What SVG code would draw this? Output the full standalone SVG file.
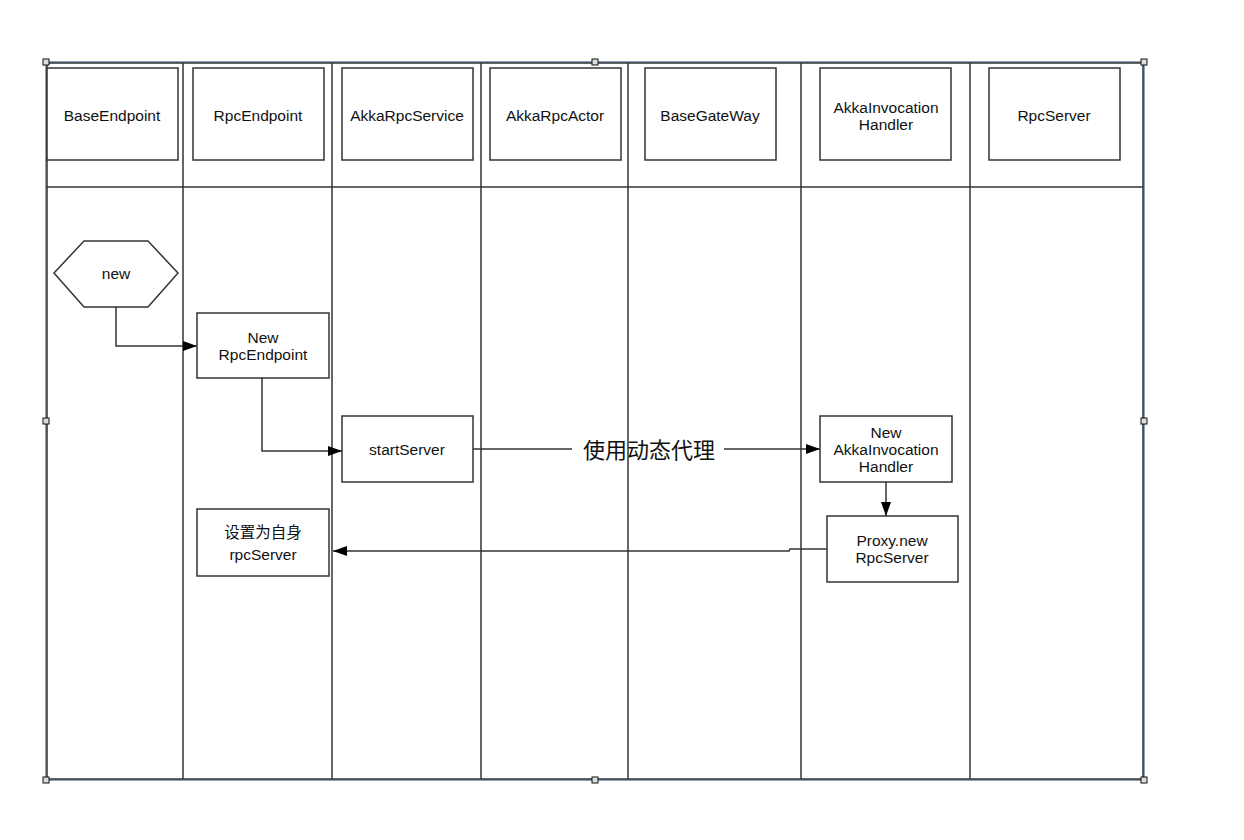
<svg xmlns="http://www.w3.org/2000/svg" width="1244" height="840" viewBox="0 0 1244 840">
<style>
.ln{stroke:#333;stroke-width:1.5;fill:none}
.box{fill:#fff;stroke:#333;stroke-width:1.5}
.t{font-family:"Liberation Sans",Arial,"Noto Sans CJK SC",sans-serif;font-size:15.5px;fill:#111;text-anchor:middle}
.lbl{font-family:"Liberation Sans","Noto Sans CJK SC",sans-serif;font-size:22px;fill:#111;text-anchor:middle}
.sel{stroke:#8aa4bf;stroke-width:2;fill:none}
.h{fill:#ddd;stroke:#111;stroke-width:1}
</style>
<defs>
<marker id="ar" viewBox="0 0 14 10" refX="14" refY="5" markerWidth="14" markerHeight="10" markerUnits="userSpaceOnUse" orient="auto">
<path d="M0,0 L14,5 L0,10 Z" fill="#000"/>
</marker>
</defs>
<rect width="1244" height="840" fill="#fff"/>
<g id="frame">
<rect class="sel" x="46" y="62" width="1098" height="718"/>
<rect class="ln" x="47" y="63" width="1096" height="716"/>
<line class="ln" x1="47" y1="187" x2="1143" y2="187"/>
<line class="ln" x1="183" y1="63" x2="183" y2="779"/>
<line class="ln" x1="332" y1="63" x2="332" y2="779"/>
<line class="ln" x1="481" y1="63" x2="481" y2="779"/>
<line class="ln" x1="628" y1="63" x2="628" y2="779"/>
<line class="ln" x1="801" y1="63" x2="801" y2="779"/>
<line class="ln" x1="970" y1="63" x2="970" y2="779"/>
</g>
<g id="hdr-BaseEndpoint"><rect class="box" x="47" y="68" width="131" height="92"/><text class="t" x="112" y="121">BaseEndpoint</text></g>
<g id="hdr-RpcEndpoint"><rect class="box" x="193" y="68" width="131" height="92"/><text class="t" x="258" y="121">RpcEndpoint</text></g>
<g id="hdr-AkkaRpcService"><rect class="box" x="342" y="68" width="131" height="92"/><text class="t" x="407" y="121">AkkaRpcService</text></g>
<g id="hdr-AkkaRpcActor"><rect class="box" x="490" y="68" width="131" height="92"/><text class="t" x="555" y="121">AkkaRpcActor</text></g>
<g id="hdr-BaseGateWay"><rect class="box" x="645" y="68" width="131" height="92"/><text class="t" x="710" y="121">BaseGateWay</text></g>
<g id="hdr-AkkaInvocationHandler"><rect class="box" x="820" y="68" width="131" height="92"/><text class="t" x="886" y="113">AkkaInvocation</text><text class="t" x="886" y="130">Handler</text></g>
<g id="hdr-RpcServer"><rect class="box" x="989" y="68" width="131" height="92"/><text class="t" x="1054" y="121">RpcServer</text></g>
<g id="connectors">
<path class="ln" d="M116,307 L116,346 L197,346" marker-end="url(#ar)"/>
<path class="ln" d="M262,378 L262,451 L342,451" marker-end="url(#ar)"/>
<path class="ln" d="M473,449 L572,449"/>
<path class="ln" d="M724,449 L820,449" marker-end="url(#ar)"/>
<text class="lbl" x="649" y="458">使用动态代理</text>
<path class="ln" d="M886,482 L886,516" marker-end="url(#ar)"/>
<path class="ln" d="M827,549 L790,549 L789,551 L333,551" marker-end="url(#ar)"/>
</g>
<g id="n-new"><polygon class="box" points="54,273 84,241 148,241 178,273 148,307 84,307"/><text class="t" x="116" y="279">new</text></g>
<g id="n-newRpcEndpoint"><rect class="box" x="197" y="313" width="132" height="65"/><text class="t" x="263" y="343">New</text><text class="t" x="263" y="360">RpcEndpoint</text></g>
<g id="n-startServer"><rect class="box" x="342" y="416" width="131" height="66"/><text class="t" x="407" y="455">startServer</text></g>
<g id="n-setSelf"><rect class="box" x="197" y="509" width="132" height="67"/><text class="t" x="263" y="538">设置为自身</text><text class="t" x="263" y="560">rpcServer</text></g>
<g id="n-newHandler"><rect class="box" x="820" y="416" width="132" height="66"/><text class="t" x="886" y="438">New</text><text class="t" x="886" y="455">AkkaInvocation</text><text class="t" x="886" y="472">Handler</text></g>
<g id="n-proxy"><rect class="box" x="827" y="516" width="131" height="66"/><text class="t" x="892" y="546">Proxy.new</text><text class="t" x="892" y="563">RpcServer</text></g>
<g id="handles">
<rect class="h" x="43" y="59" width="6" height="6"/>
<rect class="h" x="592" y="59" width="6" height="6"/>
<rect class="h" x="1141" y="59" width="6" height="6"/>
<rect class="h" x="43" y="418" width="6" height="6"/>
<rect class="h" x="1141" y="418" width="6" height="6"/>
<rect class="h" x="43" y="777" width="6" height="6"/>
<rect class="h" x="592" y="777" width="6" height="6"/>
<rect class="h" x="1141" y="777" width="6" height="6"/>
</g>
</svg>
